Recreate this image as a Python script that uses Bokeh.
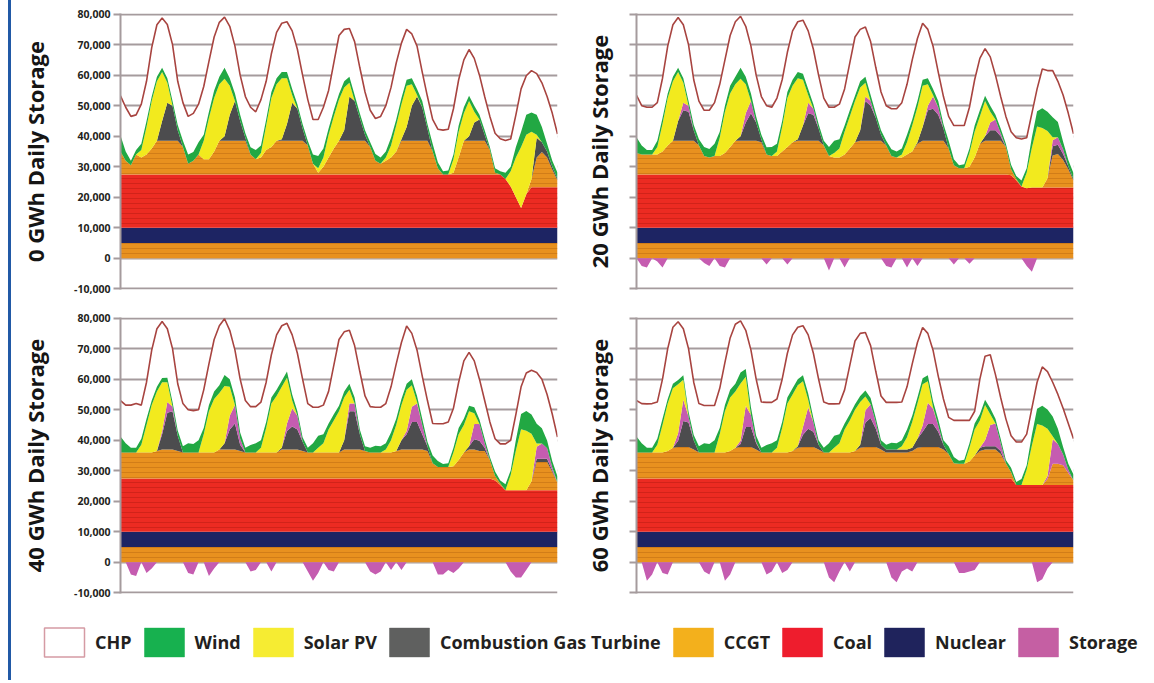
from bokeh.plotting import figure
from bokeh.models import ColumnDataSource, Range1d, Legend, LegendItem, Div, NumeralTickFormatter
from bokeh.layouts import row, column
from bokeh.transform import stack
from bokeh.embed import file_html
from bokeh.resources import INLINE

# ---------------- data (MW, one value every 2 hours over one week) ----------------
HOURS = list(range(0, 169, 2))
TICKS = [-10000, 0, 10000, 20000, 30000, 40000, 50000, 60000, 70000, 80000]

BASE_CCGT = [5000] * 85
NUCLEAR = [5000] * 85

SOLAR = [
    0, 0, 0, 0, 2500, 9000, 15500, 19500, 16000, 6500, 0, 0,
    0, 0, 0, 0, 6000, 13500, 17500, 18500, 18800, 9500, 0, 0,
    0, 0, 0, 1500, 8000, 16000, 18500, 20000, 15000, 2500, 0, 0,
    0, 0, 1500, 3000, 7500, 10500, 13500, 14000, 4500, 0, 0, 0,
    0, 0, 0, 1000, 4000, 8500, 11500, 13500, 7000, 500, 0, 0,
    0, 0, 0, 0, 4500, 8500, 9000, 11500, 3500, 0, 0, 0,
    0, 0, 0, 5000, 13000, 20000, 19500, 15500, 1000, 0, 0, 0, 0]

WIND = [
    5200, 3000, 1500, 1500, 2000, 2000, 1500, 1500, 1400, 1500, 1500, 1700,
    2000, 3000, 2800, 4000, 2000, 2000, 2500, 2500, 3600, 2500, 2500, 2000,
    1500, 2400, 3000, 2500, 2000, 2000, 2000, 2000, 2000, 2000, 1500, 1500,
    1500, 3000, 4000, 3000, 2000, 2000, 1800, 2000, 2000, 2000, 1500, 1500,
    1500, 2200, 2000, 2000, 2500, 2000, 2000, 2000, 2000, 2000, 2000, 1500,
    2500, 2000, 1000, 1300, 1500, 2000, 2000, 1800, 2000, 1500, 1500, 1000,
    1500, 1000, 2000, 1500, 3500, 5000, 6500, 6300, 6500, 5000, 2500, 2000, 2000]

# ---- 0 GWh daily storage ----
P1_TOTAL = [
    53200, 49500, 46500, 47000, 50500, 58000, 69000, 76500, 78700, 76600, 70000, 58000,
    51000, 46500, 47500, 50500, 56300, 64500, 72500, 77300, 79000, 76000, 69500, 60000,
    53000, 49500, 48000, 52000, 58000, 67000, 74000, 77000, 77500, 74500, 68500, 60000,
    52000, 45500, 45500, 49500, 55000, 64000, 73000, 75000, 75300, 71000, 62500, 54500,
    48500, 45800, 46500, 50000, 56000, 64000, 70500, 75000, 73500, 69500, 61000, 53000,
    45500, 42300, 42000, 42300, 49000, 58500, 65000, 68400, 65500, 60000, 53000, 46500,
    41000, 39200, 38600, 39100, 47000, 55500, 59800, 61500, 60500, 57500, 53000, 47500, 40700]
P1_COAL = [17500] * 74 + [16000, 13500, 10000, 6500, 11000] + [13300] * 6
P1_CCGT = [
    7500, 4500, 3000, 6500, 5500, 6500, 8500, 11000, 11000, 11000, 11000, 11000,
    9000, 3500, 4500, 6500, 5000, 5000, 7500, 11000, 11000, 11000, 11000, 11000,
    11000, 6500, 5000, 5500, 8000, 9000, 11000, 11000, 11000, 11000, 11000, 11000,
    9500, 3500, 500, 2500, 5500, 8500, 11000, 11000, 11000, 11000, 11000, 11000,
    9000, 4500, 3500, 4500, 5500, 7500, 11000, 11000, 11000, 11000, 11000, 11000,
    7500, 2000, 0, 0, 500, 5500, 11000, 11000, 11000, 11000, 11000, 8000,
    500, 0, 0, 0, 0, 0, 0, 2700, 9700, 11500, 9700, 5700, 2200]
P1_CGT = [
    0, 0, 0, 0, 0, 0, 0, 0, 6500, 12500, 11500, 3500,
    0, 0, 0, 0, 0, 0, 0, 0, 1500, 8500, 13000, 6500,
    1000, 0, 0, 0, 0, 0, 0, 500, 5500, 12500, 10500, 4000,
    0, 0, 0, 0, 0, 0, 0, 3500, 14500, 13000, 7500, 2000,
    0, 0, 0, 0, 0, 0, 500, 4500, 11500, 14500, 11000, 4000,
    0, 0, 0, 0, 0, 0, 0, 1500, 6000, 7000, 2000, 0,
    0, 0, 0, 0, 0, 0, 0, 0, 6500, 3200, 2000, 1000, 500]
P1_STORE_OUT = [0] * 85
P1_STORE_IN = [0] * 85

# ---- 20 GWh daily storage ----
P2_TOTAL = [
    53400, 50000, 49500, 49500, 51000, 59000, 69500, 76500, 78900, 76500, 70000, 58500,
    51500, 48500, 48500, 51000, 57000, 65000, 73000, 77500, 79300, 76000, 69500, 60000,
    53000, 50000, 49500, 52500, 58500, 67500, 74500, 77500, 78000, 74500, 68500, 60000,
    52500, 49500, 49500, 50500, 55500, 64000, 72500, 75000, 75800, 71000, 62500, 54500,
    50000, 49000, 49000, 51000, 57000, 65000, 72000, 77000, 75000, 69500, 61000, 53000,
    46500, 43500, 43500, 43500, 49500, 58500, 65500, 68700, 66000, 60000, 53000, 46500,
    41500, 39500, 39100, 39500, 47500, 55500, 62000, 61500, 61500, 58000, 53500, 47500, 40800]
P2_COAL = [17500] * 72 + [17200, 15500, 13500, 13000] + [13200] * 9
P2_CCGT = [
    7000, 6500, 6500, 6500, 6500, 7500, 9500, 11000, 11000, 11000, 11000, 11000,
    9500, 6000, 5500, 6000, 6000, 7000, 9000, 11000, 11000, 11000, 11000, 11000,
    10500, 6500, 6000, 6000, 7500, 9000, 10500, 11000, 11000, 11000, 11000, 11000,
    9500, 6000, 5500, 5500, 6500, 8500, 10500, 11000, 11000, 11000, 11000, 11000,
    9500, 6000, 5500, 5500, 6500, 7500, 10000, 11000, 11000, 11000, 11000, 11000,
    8500, 3000, 2000, 2000, 2500, 5500, 10000, 11000, 11000, 11000, 11000, 9000,
    2000, 500, 0, 0, 0, 0, 0, 3000, 10500, 11000, 9000, 6000, 2200]
P2_CGT = [
    0, 0, 0, 0, 0, 0, 0, 0, 6500, 10000, 9500, 3500,
    0, 0, 0, 0, 0, 0, 0, 0, 1500, 6000, 9000, 6000,
    1000, 0, 0, 0, 0, 0, 0, 500, 5000, 9000, 8500, 4000,
    0, 0, 0, 0, 0, 0, 0, 3500, 13000, 11500, 7500, 2000,
    0, 0, 0, 0, 0, 0, 500, 4500, 10000, 10500, 8500, 4000,
    0, 0, 0, 0, 0, 0, 0, 1500, 3500, 3500, 1500, 0,
    0, 0, 0, 0, 0, 0, 0, 0, 3000, 3000, 2000, 1000, 500]
P2_STORE_OUT = [
    0, 0, 0, 0, 0, 0, 0, 0, 0, 2500, 2000, 0,
    0, 0, 0, 0, 0, 0, 0, 0, 0, 3000, 4000, 0,
    0, 0, 0, 0, 0, 0, 0, 0, 0, 3500, 2000, 0,
    0, 0, 0, 0, 0, 0, 0, 0, 1500, 1500, 0, 0,
    0, 0, 0, 0, 0, 0, 0, 0, 1500, 4000, 2500, 0,
    0, 0, 0, 0, 0, 0, 0, 0, 2500, 3500, 1000, 0,
    0, 0, 0, 0, 0, 0, 0, 0, 2000, 2500, 1500, 0, 0]
P2_STORE_IN = [
    0, -2500, -3000, 0, -1000, -3000, 0, 0, 0, 0, 0, 0,
    0, -1500, -2500, 0, -2500, -3000, 0, 0, 0, 0, 0, 0,
    0, -2000, 0, 0, 0, -2000, 0, 0, 0, 0, 0, 0,
    0, -4000, 0, 0, -3000, 0, 0, 0, 0, 0, 0, 0,
    -2500, -3000, 0, 0, -3000, 0, -2500, 0, 0, 0, 0, 0,
    0, -2000, 0, 0, -1800, 0, 0, 0, 0, 0, 0, 0,
    0, 0, 0, -2500, -4400, 0, 0, 0, 0, 0, 0, 0, 0]

# ---- 40 GWh daily storage ----
P3_TOTAL = [
    53000, 51500, 51500, 52000, 51500, 59000, 69500, 76500, 78900, 76500, 70000, 58500,
    52000, 50000, 49700, 50000, 56500, 65000, 73000, 77500, 79800, 76000, 69500, 60000,
    53000, 51000, 51000, 52500, 59000, 68000, 74500, 77500, 78300, 74500, 68500, 60000,
    52000, 50800, 50800, 51500, 56000, 64500, 73000, 75500, 76000, 71000, 62500, 54500,
    51000, 50800, 50800, 52000, 57500, 65000, 72000, 77400, 75000, 69500, 61000, 53000,
    45500, 45400, 45400, 46000, 50500, 59000, 66000, 68800, 66000, 60000, 53000, 46000,
    40500, 38800, 38800, 40000, 48500, 57500, 62000, 62900, 62200, 60000, 55000, 48500, 41000]
P3_COAL = [17500] * 72 + [16800, 15300] + [13600] * 11
P3_CCGT = [
    8500, 8500, 8500, 8500, 8500, 8500, 8500, 9000, 9500, 9500, 9500, 9000,
    8500, 8500, 8500, 8500, 8500, 8500, 8500, 9500, 9500, 9500, 9500, 9000,
    8500, 8500, 8500, 8500, 8500, 8500, 8500, 9500, 9500, 9500, 9500, 9000,
    8500, 8500, 8500, 8500, 8500, 8500, 8500, 9500, 9500, 9500, 9500, 9000,
    8500, 8500, 8500, 8500, 8500, 9000, 9500, 9500, 9500, 9500, 9500, 9000,
    5000, 3700, 3700, 3700, 4000, 6000, 8500, 9500, 9500, 9000, 9000, 6000,
    1500, 500, 0, 0, 0, 0, 0, 3000, 9300, 9300, 9300, 6000, 2500]
P3_CGT = [
    0, 0, 0, 0, 0, 0, 0, 0, 5000, 12000, 12500, 5000,
    0, 0, 0, 0, 0, 0, 0, 0, 2000, 6500, 8500, 2000,
    0, 0, 0, 0, 0, 0, 0, 500, 6000, 7500, 6500, 3000,
    0, 0, 0, 0, 0, 0, 0, 3000, 12500, 12500, 5000, 0,
    0, 0, 0, 0, 0, 0, 3000, 5000, 9000, 9000, 5000, 1500,
    0, 0, 0, 0, 0, 0, 0, 1000, 3300, 3300, 1000, 0,
    0, 0, 0, 0, 0, 0, 0, 0, 1000, 1000, 1000, 500, 0]
P3_STORE_OUT = [
    0, 0, 0, 0, 0, 0, 0, 0, 1000, 3500, 1500, 0,
    0, 0, 0, 0, 0, 0, 0, 0, 0, 4500, 6000, 2000,
    0, 0, 0, 0, 0, 0, 0, 0, 2500, 6000, 4500, 0,
    0, 0, 0, 0, 0, 0, 0, 0, 2500, 2500, 0, 0,
    0, 0, 0, 0, 0, 0, 0, 1000, 5000, 6000, 3000, 0,
    0, 0, 0, 0, 0, 0, 0, 0, 5000, 5500, 1500, 0,
    0, 0, 0, 0, 0, 0, 0, 0, 4000, 5000, 3500, 1000, 0]
P3_STORE_IN = [
    0, 0, -4000, -4500, 0, -3500, -2000, 0, 0, 0, 0, 0,
    0, -3500, -4000, 0, 0, -4500, -2000, 0, 0, 0, 0, 0,
    0, -3000, -2500, 0, 0, -3000, 0, 0, 0, 0, 0, 0,
    -3000, -6000, -3500, 0, -2500, -3000, 0, 0, 0, 0, 0, 0,
    -3000, -4000, -3000, 0, -2500, 0, -2500, 0, 0, 0, 0, 0,
    0, -4000, -4000, -2500, -3500, -2000, 0, 0, 0, 0, 0, 0,
    0, 0, 0, -3000, -5000, -5000, -2500, 0, 0, 0, 0, 0, 0]

# ---- 60 GWh daily storage ----
P4_TOTAL = [
    53000, 52000, 51900, 52000, 52500, 60000, 70000, 77000, 78800, 76500, 70000, 59000,
    52000, 51400, 51400, 51400, 57000, 65500, 73500, 78000, 79100, 76000, 69500, 60000,
    52500, 52400, 52400, 53500, 60000, 68500, 74500, 77000, 77500, 74500, 68500, 60000,
    52500, 51900, 51900, 52000, 56500, 64500, 72500, 75000, 75300, 71000, 62500, 54500,
    52400, 52400, 52400, 52500, 57500, 65000, 72000, 76900, 75000, 69500, 61000, 53500,
    47500, 46500, 46500, 46500, 46500, 49500, 60000, 67500, 68000, 61500, 54000, 47000,
    41500, 39400, 39400, 42000, 50500, 59000, 64000, 62500, 59000, 55000, 50500, 45500, 40500]
P4_COAL = [17500] * 73 + [15300] * 12
P4_CCGT = [
    8500, 8500, 8500, 8500, 8500, 8500, 9000, 10000, 10300, 10300, 10300, 9500,
    8500, 8500, 8500, 8500, 8500, 8500, 9000, 10000, 10300, 10300, 10300, 9500,
    8500, 8500, 8500, 8500, 8500, 8500, 9000, 10000, 10300, 10300, 10300, 9500,
    8500, 8500, 8500, 8500, 8500, 8500, 9000, 10000, 10300, 10300, 10300, 9500,
    8500, 8500, 8500, 8500, 8500, 9000, 10000, 10300, 10300, 10300, 10300, 9500,
    8000, 5000, 4800, 4800, 5500, 7500, 9000, 9500, 9500, 9500, 8000, 5000,
    2000, 0, 0, 0, 0, 0, 0, 2000, 7000, 7000, 6500, 4000, 1500]
P4_CGT = [
    0, 0, 0, 0, 0, 0, 0, 0, 2000, 8500, 8000, 3000,
    0, 0, 0, 0, 0, 0, 0, 0, 1000, 6500, 6500, 2000,
    0, 0, 0, 0, 0, 0, 0, 500, 4000, 6000, 5000, 1500,
    0, 0, 0, 0, 0, 0, 0, 1000, 8000, 9500, 6000, 1500,
    1000, 1000, 1000, 1000, 1000, 1000, 3000, 5000, 7500, 7500, 5000, 1500,
    0, 0, 0, 0, 0, 0, 1000, 1000, 1000, 1000, 1000, 0,
    0, 0, 0, 0, 0, 0, 0, 0, 0, 0, 0, 0, 0]
P4_STORE_OUT = [
    0, 0, 0, 0, 0, 0, 0, 0, 2500, 7000, 2000, 0,
    0, 0, 0, 0, 0, 0, 0, 0, 1000, 7000, 4000, 500,
    0, 0, 0, 0, 0, 0, 0, 0, 2500, 7000, 3000, 0,
    0, 0, 0, 0, 0, 0, 0, 0, 4000, 4500, 2000, 0,
    0, 0, 0, 0, 0, 0, 0, 2000, 7000, 5000, 2000, 0,
    0, 0, 0, 0, 0, 0, 0, 2000, 7000, 7500, 2500, 0,
    0, 0, 0, 0, 0, 0, 0, 1000, 8000, 6500, 3500, 1000, 0]
P4_STORE_IN = [
    0, 0, -6000, -4000, 0, -3500, -4000, 0, 0, 0, 0, 0,
    0, -3000, -4000, 0, 0, -6000, -4000, 0, 0, 0, 0, 0,
    0, -4000, -3000, 0, -3500, -2500, 0, 0, 0, 0, 0, 0,
    0, -5000, -6500, -3000, 0, -3000, 0, 0, 0, 0, 0, 0,
    0, -5000, -6500, -3000, -2000, -3000, 0, 0, 0, 0, 0, 0,
    0, 0, -3500, -3500, -3000, -2500, 0, 0, 0, 0, 0, 0,
    0, 0, 0, 0, 0, -6500, -5500, -2000, 0, 0, 0, 0, 0]

PANELS = [
    ("0 GWh Daily Storage", P1_TOTAL, P1_COAL, P1_CCGT, P1_CGT, P1_STORE_OUT, P1_STORE_IN),
    ("20 GWh Daily Storage", P2_TOTAL, P2_COAL, P2_CCGT, P2_CGT, P2_STORE_OUT, P2_STORE_IN),
    ("40 GWh Daily Storage", P3_TOTAL, P3_COAL, P3_CCGT, P3_CGT, P3_STORE_OUT, P3_STORE_IN),
    ("60 GWh Daily Storage", P4_TOTAL, P4_COAL, P4_CCGT, P4_CGT, P4_STORE_OUT, P4_STORE_IN),
]

LEGEND_LABELS = ["CHP", "Wind", "Solar PV", "Combustion Gas Turbine", "CCGT", "Coal", "Nuclear", "Storage"]

# ---------------- styles ----------------
FONT = "Open Sans"
GRID = "#a59b9d"
TEXT = "#231f20"
ORANGE = "#e8911f"
ORANGE_H = "#b0600c"
RED = "#ec2b22"
RED_H = "#a8170f"
NAVY = "#1d2463"
GREY = "#4c4c4e"
PINK = "#c55cb0"
YELLOW = "#f2ea1e"
GREEN = "#22a843"
CHP_LINE = "#a84440"

LAYERS = [
    ("base", ORANGE, ORANGE_H),
    ("nuclear", NAVY, None),
    ("coal", RED, RED_H),
    ("ccgt", ORANGE, ORANGE_H),
    ("cgt", GREY, None),
    ("store_out", PINK, None),
    ("solar", YELLOW, None),
    ("wind", GREEN, None),
]

LEG_COLORS = [("white", "#d59ba4"), ("#17b14f", None), ("#f6ec32", None), ("#5f605f", None),
              ("#f3b01c", None), ("#ee1d2d", None), ("#1f235c", None), ("#c55fa3", None)]

FRAME_W = 437
FRAME_H = 276


def make_panel(spec, left, right, top, bottom, labels, standoff):
    title, total, coal, ccgt, cgt, s_out, s_in = spec
    src = ColumnDataSource(data=dict(x=HOURS, base=BASE_CCGT, nuclear=NUCLEAR, coal=coal, ccgt=ccgt,
                                     cgt=cgt, store_out=s_out, solar=SOLAR, wind=WIND,
                                     total=total, store_in=s_in))
    p = figure(width=left + FRAME_W + right, height=top + FRAME_H + bottom,
               x_range=Range1d(0, 168), y_range=Range1d(-10200, 80200),
               x_axis_location=None, toolbar_location=None, output_backend="svg",
               min_border_left=left, min_border_right=right,
               min_border_top=top, min_border_bottom=bottom)
    p.outline_line_color = None
    p.background_fill_color = "white"
    p.border_fill_color = "white"
    for g in p.grid:
        if g.dimension == 0:
            g.visible = False
        else:
            g.ticker = TICKS
            g.grid_line_color = GRID
            g.grid_line_width = 2
    ax = p.yaxis[0]
    ax.ticker = TICKS
    ax.formatter = NumeralTickFormatter(format="0,0")
    ax.axis_line_color = GRID
    ax.axis_line_width = 2
    ax.major_tick_line_color = GRID
    ax.major_tick_line_width = 2
    ax.major_tick_out = 7
    ax.major_tick_in = 0
    ax.minor_tick_line_color = None
    ax.major_label_standoff = 3
    ax.major_label_text_font = FONT
    ax.major_label_text_font_size = "10.5px"
    ax.major_label_text_font_style = "bold"
    ax.major_label_text_color = TEXT
    if not labels:
        ax.major_label_overrides = {t: "" for t in TICKS}
    ax.axis_label = title
    ax.axis_label_text_font = FONT
    ax.axis_label_text_font_size = "22px"
    ax.axis_label_text_font_style = "bold"
    ax.axis_label_text_color = "#151515"
    ax.axis_label_standoff = standoff

    # CHP: white area up to the total line (hides the grid inside it)
    p.varea(x="x", y1=0, y2="total", source=src, fill_color="white")
    names = []
    for name, color, hatch in LAYERS:
        kw = {}
        if hatch:
            kw = dict(hatch_pattern="horizontal_line", hatch_color=hatch, hatch_alpha=0.5,
                      hatch_scale=5, hatch_weight=0.8)
        p.varea(x="x", y1=stack(*names), y2=stack(*names, name), source=src,
                fill_color=color, **kw)
        names.append(name)
    p.varea(x="x", y1=0, y2="store_in", source=src, fill_color=PINK)
    p.line(x="x", y="total", source=src, line_color=CHP_LINE, line_width=1.6)
    return p


p1 = make_panel(PANELS[0], 109, 10, 13, 10, True, 21)
p2 = make_panel(PANELS[1], 69, 30, 13, 10, False, 16)
p3 = make_panel(PANELS[2], 109, 10, 18, 8, True, 21)
p4 = make_panel(PANELS[3], 69, 30, 18, 8, False, 16)

leg = figure(width=1135, height=66, x_range=Range1d(0, 1), y_range=Range1d(0, 1),
             toolbar_location=None, output_backend="svg", min_border=0,
             x_axis_location=None, y_axis_location=None)
leg.outline_line_color = None
leg.grid.visible = False
items = []
for label, (fill, line) in zip(LEGEND_LABELS, LEG_COLORS):
    # swatch renderers sit outside the visible range; only their legend boxes show
    r = leg.quad(left=[2], right=[3], top=[3], bottom=[2], fill_color=fill,
                 line_color=line if line else fill, line_width=1.5 if line else 0.5)
    items.append(LegendItem(label=label, renderers=[r]))
lg = Legend(items=items, orientation="horizontal", location=(28, 7),
            glyph_width=50, glyph_height=36, label_standoff=6, spacing=7,
            padding=0, margin=0, border_line_color=None, background_fill_alpha=0,
            label_text_font=FONT, label_text_font_size="18px",
            label_text_font_style="bold", label_text_color=TEXT)
leg.add_layout(lg)

bar = Div(width=3, height=680, margin=0, styles={"background-color": "#2159a6"})
layout = row(bar, column(row(p1, p2), row(p3, p4), leg), margin=(0, 0, 0, 8))

open("out.html", "w").write(file_html(layout, INLINE))
